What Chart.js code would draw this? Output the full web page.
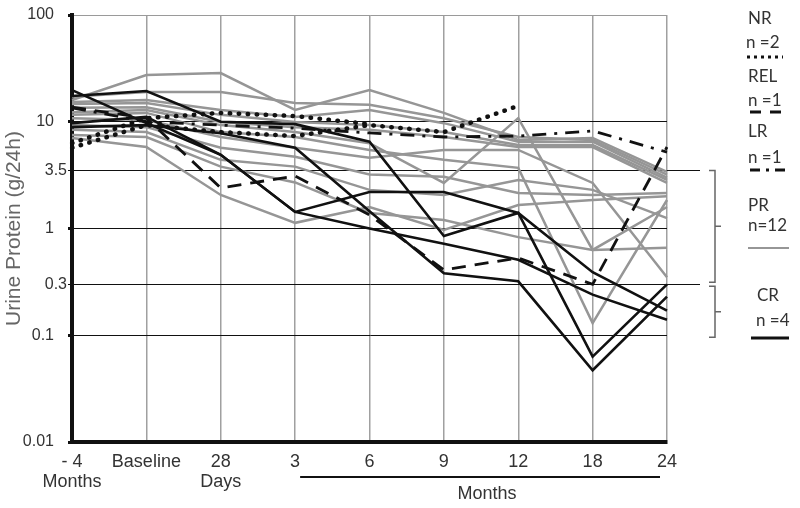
<!DOCTYPE html>
<html>
<head>
<meta charset="utf-8">
<script src="https://cdn.jsdelivr.net/npm/chart.js@4.4.0/dist/chart.umd.min.js"></script>
<style>
  html, body { margin:0; padding:0; background:#fff; }
  #wrap { width:800px; height:508px; }
</style>
</head>
<body>
<div id="wrap"><canvas id="chart" width="800" height="508"></canvas></div>
<script>
// Urine protein (g/24h) per patient, by response group

// ---------- Data ----------
const categories = [['- 4', 'Months'], 'Baseline', ['28', 'Days'], '3', '6', '9', '12', '18', '24'];
const yTicks = [100, 10, 3.5, 1, 0.3, 0.1, 0.01];
const majorTicks = [100, 10, 1, 0.1, 0.01];

// CR n=4 (black)
const cr1 = [17.4, 19.4, 10, 9.5, 6.5, 0.85, 1.4, 0.063, 0.30];
const cr2 = [19.8, 9.7, 4.9, 1.43, 2.2, 2.2, 1.4, 0.39, 0.17];
const cr3 = [8.9, 9.3, 7.8, 5.7, 1.45, 0.38, 0.32, 0.047, 0.23];
const cr4 = [9.7, 11.1, 4.9, 1.43, 1.0, 0.72, 0.51, 0.24, 0.14];

// REL n=1 (dashed), LR n=1 (dash-dot)
const rel1 = [13.7, 10.8, 2.4, 3.1, 1.34, 0.41, 0.53, 0.30, 5.8];
const lr1 = [13.5, 10, 9.3, 8.7, 7.85, 7.2, 7.35, 8.2, 5.2];

// NR n=2 (dotted)
const nr1 = [5.7, 9.3, 8.0, 7.35, 9.3, 8.0, 14.1, null, null];
const nr2 = [6.3, 10.8, 12.1, 11.3, 9.5, null, null, null, null];

// PR n=12 (gray)
const pr1 = [16.0, 27.4, 28.6, 12.9, 19.8, 12.1, 6.75, 7.05, 3.4];
const pr2 = [17.1, 19.0, 19.0, 15.0, 14.4, 10.8, 7.2, 6.75, 3.2];
const pr3 = [15.3, 16.0, 12.9, 11.1, 12.9, 9.7, 6.5, 6.5, 3.0];
const pr4 = [14.7, 15.0, 11.6, 9.95, 9.3, 8.0, 6.05, 6.05, 2.85];
const pr5 = [13.5, 13.7, 9.95, 8.9, 8.4, 7.2, 5.8, 5.8, 2.67];
const pr6 = [12.3, 12.9, 9.3, 8.0, 6.3, 2.67, 10.8, 0.63, 1.59];
const pr7 = [11.6, 12.1, 8.0, 7.2, 5.45, 4.4, 3.7, 0.13, 1.85];
const pr8 = [10.8, 10.4, 7.2, 5.7, 4.6, 5.45, 5.45, 2.67, 0.35];
const pr9 = [9.3, 8.9, 5.7, 4.7, 3.2, 3.05, 2.15, 2.06, 2.15];
const pr10 = [8.4, 8.0, 4.4, 3.8, 2.3, 2.06, 2.85, 2.3, 1.25];
const pr11 = [7.5, 7.2, 3.8, 2.7, 1.4, 1.2, 0.83, 0.63, 0.66];
const pr12 = [7.05, 5.8, 2.06, 1.13, 1.59, 0.97, 1.66, 1.85, 2.0];

const crSeries = [cr1, cr2, cr3, cr4];
const nrSeries = [nr1, nr2];
const prSeries = [pr1, pr2, pr3, pr4, pr5, pr6, pr7, pr8, pr9, pr10, pr11, pr12];

// ---------- Styles ----------
const BLACK = '#111';
const GRAY = '#969696';
const FONT = '"Liberation Sans", Arial, sans-serif';

function line(label, data, color, dash, width, order, cap) {
  return {
    label, data,
    borderColor: color,
    borderWidth: width,
    borderDash: dash || [],
    borderCapStyle: cap || 'butt',
    pointRadius: 0,
    tension: 0,
    fill: false,
    order
  };
}

const datasets = [];
crSeries.forEach((d, i) => datasets.push(line('CR ' + (i + 1), d, BLACK, null, 2.6, 1)));
datasets.push(line('REL', rel1, BLACK, [14, 9], 2.8, 1));
datasets.push(line('LR', lr1, BLACK, [14, 8, 3, 8], 2.8, 1));
nrSeries.forEach((d, i) => datasets.push(line('NR ' + (i + 1), d, BLACK, [0.5, 8.5], 4.5, 1, 'round')));
prSeries.forEach((d, i) => datasets.push(line('PR ' + (i + 1), d, GRAY, null, 2.5, 2)));

// ---------- Extra drawing: y labels, brackets, legend, months underline ----------
const extras = {
  id: 'extras',
  afterDraw(chart) {
    const ctx = chart.ctx;
    const y = chart.scales.y;
    const x = chart.scales.x;
    const area = chart.chartArea;
    const y35 = y.getPixelForValue(3.5);
    const y03 = y.getPixelForValue(0.3);
    const y01 = y.getPixelForValue(0.1);

    ctx.save();
    // y tick labels: major ones sit further from the axis
    ctx.font = '16px ' + FONT;
    ctx.fillStyle = '#333';
    ctx.textAlign = 'right';
    ctx.textBaseline = 'middle';
    yTicks.forEach(v => {
      const px = majorTicks.includes(v) ? 54 : 67;
      ctx.fillText(String(v), px, y.getPixelForValue(v));
    });

    // 3.5 and 0.3 lines run out to the brackets
    ctx.strokeStyle = BLACK;
    ctx.lineWidth = 1;
    ctx.setLineDash([]);
    [y35, y03].forEach(py => {
      ctx.beginPath();
      ctx.moveTo(area.right, Math.round(py) + 0.5);
      ctx.lineTo(700, Math.round(py) + 0.5);
      ctx.stroke();
    });

    // brackets
    ctx.strokeStyle = '#666';
    ctx.lineWidth = 1.5;
    function bracket(top, bottom) {
      const mid = (top + bottom) / 2;
      ctx.beginPath();
      ctx.moveTo(709, top); ctx.lineTo(715, top); ctx.lineTo(715, bottom); ctx.lineTo(709, bottom);
      ctx.moveTo(715, mid); ctx.lineTo(721, mid);
      ctx.stroke();
    }
    bracket(y35, y03 - 2);
    bracket(y03 + 2, y01 + 2);

    // "Months" underline below 3..24
    const x3 = x.getPixelForValue(3);
    const x24 = x.getPixelForValue(8);
    ctx.strokeStyle = BLACK;
    ctx.lineWidth = 2;
    ctx.beginPath();
    ctx.moveTo(x3 + 5, 477); ctx.lineTo(x24 - 7, 477);
    ctx.stroke();
    ctx.fillStyle = '#333';
    ctx.font = '18px ' + FONT;
    ctx.textAlign = 'center';
    ctx.fillText('Months', (x3 + x24) / 2 + 6, 494);

    // legend
    ctx.font = '17px Lato, "Open Sans", sans-serif';
    ctx.textAlign = 'left';
    ctx.fillText('NR', 748, 19);
    ctx.fillText('n =2', 746, 43);
    ctx.fillText('REL', 748, 77);
    ctx.fillText('n =1', 748, 101);
    ctx.fillText('LR', 748, 132);
    ctx.fillText('n =1', 748, 158);
    ctx.fillText('PR', 748, 206);
    ctx.fillText('n=12', 748, 226);
    ctx.fillText('CR', 757, 296);
    ctx.fillText('n =4', 756, 321);

    function sample(x1, x2, py, color, width, dash) {
      ctx.beginPath();
      ctx.strokeStyle = color;
      ctx.lineWidth = width;
      ctx.setLineDash(dash);
      ctx.moveTo(x1, py); ctx.lineTo(x2, py);
      ctx.stroke();
    }
    sample(747, 783, 57, BLACK, 3, [3, 4]);
    sample(750, 782, 112, BLACK, 3, [11, 9]);
    sample(750, 785, 170, BLACK, 3, [10, 6, 3, 6]);
    sample(748, 789, 248, GRAY, 2, []);
    sample(751, 789, 338, BLACK, 3, []);
    ctx.restore();
  }
};

// ---------- Chart ----------
new Chart(document.getElementById('chart').getContext('2d'), {
  type: 'line',
  data: { labels: categories, datasets },
  options: {
    responsive: false,
    animation: false,
    devicePixelRatio: 1,
    layout: { padding: { left: 0, right: 133, top: 15, bottom: 0 } },
    plugins: { legend: { display: false }, tooltip: { enabled: false } },
    scales: {
      x: {
        type: 'category',
        offset: false,
        grid: { color: '#a0a0a0', lineWidth: 1.5, drawTicks: false, offset: false },
        border: { color: BLACK, width: 4 },
        ticks: {
          color: '#333',
          font: { family: FONT, size: 18, lineHeight: 1.1 },
          padding: 10,
          maxRotation: 0,
          autoSkip: false
        },
        afterFit(scale) { scale.height = 66; }
      },
      y: {
        type: 'logarithmic',
        min: 0.01,
        max: 100,
        grid: {
          color: ctx => (ctx.tick && ctx.tick.value === 100) ? '#9a9a9a' : BLACK,
          lineWidth: 1,
          tickLength: 4,
          tickColor: BLACK,
          tickWidth: ctx => (ctx.tick && majorTicks.includes(ctx.tick.value)) ? 3 : 1
        },
        border: { color: BLACK, width: 4 },
        afterBuildTicks(scale) {
          scale.ticks = yTicks.map(v => ({ value: v, major: majorTicks.includes(v) }));
        },
        ticks: { display: false, autoSkip: false },
        title: {
          display: true,
          text: 'Urine Protein (g/24h)',
          color: '#666',
          font: { family: FONT, size: 21 },
          padding: 2
        },
        afterFit(scale) { scale.width = 72; }
      }
    }
  },
  plugins: [extras]
});
</script>
</body>
</html>
